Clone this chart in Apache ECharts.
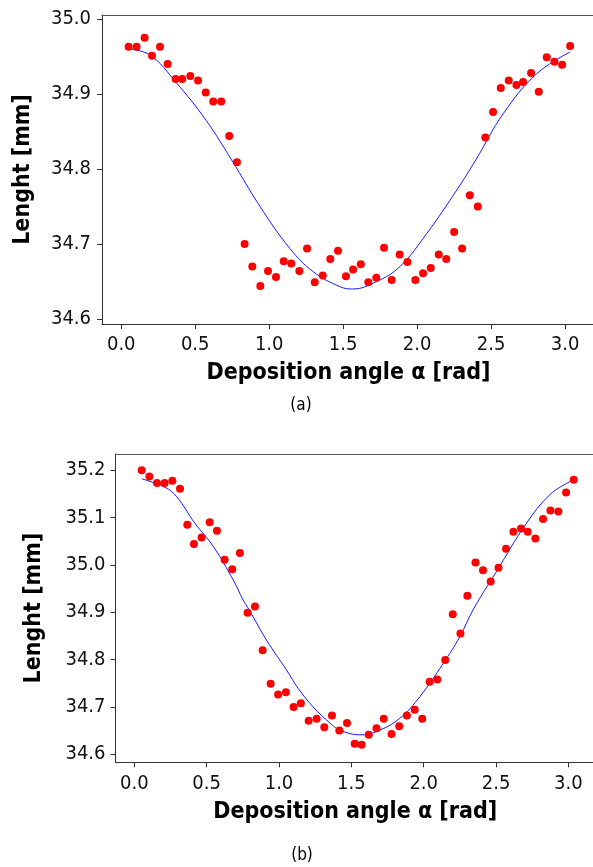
<!DOCTYPE html>
<html>
<head>
<meta charset="utf-8">
<script src="https://cdn.jsdelivr.net/npm/echarts@6/dist/echarts.min.js"></script>
<style>
html,body{margin:0;padding:0;background:#fff;overflow:hidden;}
#chart{width:593px;height:867px;}
</style>
</head>
<body>
<div id="chart"></div>
<script>
// ---- Data ----
const xTickValues = [0, 0.5, 1.0, 1.5, 2.0, 2.5, 3.0];
const topYTicks = [34.6, 34.7, 34.8, 34.9, 35.0];
const botYTicks = [34.6, 34.7, 34.8, 34.9, 35.0, 35.1, 35.2];

const xTitle = 'Deposition angle α [rad]';
const yTitle = 'Lenght [mm]';
const panelLabels = ['(a)', '(b)'];

// (a) measured points
const topX = [0.050,0.104,0.158,0.208,0.262,0.314,0.368,0.412,0.467,0.519,0.571,0.622,0.676,0.730,0.782,
  0.834,0.886,0.940,0.992,1.046,1.098,1.149,1.204,1.256,1.308,1.362,1.413,1.465,
  1.519,1.567,1.619,1.670,1.724,1.776,1.828,1.882,1.934,1.988,2.040,2.092,2.146,2.197,2.250,2.304,2.356,2.410,
  2.461,2.513,2.565,2.619,2.671,2.716,2.770,2.822,2.876,2.928,2.980,3.034];
const topY = [34.963,34.963,34.975,34.951,34.963,34.940,34.920,34.920,34.924,34.918,34.902,34.890,34.890,34.844,34.809,
  34.700,34.670,34.644,34.664,34.656,34.677,34.674,34.664,34.694,34.649,34.658,34.680,34.691,
  34.657,34.666,34.673,34.649,34.655,34.695,34.652,34.686,34.676,34.652,34.661,34.668,34.686,34.680,34.716,34.694,34.765,34.750,
  34.842,34.876,34.908,34.918,34.912,34.916,34.928,34.903,34.949,34.943,34.939,34.964];
// (a) fitted curve
const topFitX = [0.05,0.195,0.368,0.573,0.746,0.938,1.140,1.298,1.479,1.564,1.727,1.884,2.065,2.268,2.396,2.583,2.808,3.034];
const topFitY = [34.960,34.952,34.916,34.865,34.812,34.750,34.694,34.663,34.643,34.640,34.650,34.670,34.714,34.772,34.812,34.874,34.927,34.956];

// (b) measured points
const botX = [0.051,0.104,0.157,0.210,0.263,0.316,0.366,0.412,0.465,0.521,0.571,0.624,0.677,0.730,0.783,0.834,0.887,0.942,0.994,1.048,1.101,1.151,1.205,1.260,1.313,1.366,1.417,
  1.470,1.523,1.571,1.620,1.674,1.724,1.778,1.831,1.884,1.938,1.990,2.041,2.094,2.149,2.201,2.254,
  2.302,2.358,2.410,2.463,2.517,2.569,2.620,2.673,2.719,2.772,2.825,2.876,2.931,2.984,3.037];
const botY = [35.200,35.187,35.173,35.173,35.178,35.161,35.085,35.044,35.058,35.090,35.072,35.011,34.991,35.025,34.899,34.912,34.820,34.749,34.726,34.731,34.700,34.708,34.671,34.675,34.657,34.682,34.650,
  34.666,34.622,34.620,34.641,34.655,34.675,34.643,34.659,34.682,34.694,34.675,34.753,34.758,34.799,34.896,34.855,
  34.935,35.005,34.989,34.965,34.994,35.034,35.070,35.077,35.070,35.056,35.097,35.115,35.113,35.153,35.180];
// (b) fitted curve
const botFitX = [0.051,0.212,0.293,0.419,0.546,0.684,0.752,0.794,0.914,1.052,1.133,1.236,1.352,1.421,1.559,1.674,1.835,1.974,2.135,2.249,2.341,2.503,2.710,2.871,3.009,3.033];
const botFitY = [35.182,35.164,35.144,35.088,35.039,34.968,34.926,34.905,34.841,34.778,34.739,34.700,34.666,34.651,34.641,34.648,34.676,34.722,34.792,34.848,34.905,34.986,35.088,35.148,35.176,35.178];

// ---- Chart ----
const FONT = "'DejaVu Sans Condensed', 'DejaVu Sans', sans-serif";
const zip = (a, b) => a.map((v, i) => [v, b[i]]);

function xAxisCfg(gridIndex, min, max) {
  return {
    type: 'value', gridIndex, min, max, position: 'bottom',
    axisLine: {show: true, onZero: false, lineStyle: {color: '#333', width: 1}},
    axisTick: {show: true, length: 5, lineStyle: {color: '#333'}, customValues: xTickValues},
    axisLabel: {customValues: xTickValues, formatter: v => v.toFixed(1), color: '#111',
      fontFamily: FONT, fontSize: 20, margin: 11},
    splitLine: {show: false},
    name: xTitle, nameLocation: 'middle', nameGap: 38,
    nameTextStyle: {fontFamily: FONT, fontSize: 23, fontWeight: 'bold', color: '#000'}
  };
}
function topFrameAxis(gridIndex, min, max) {
  return {
    type: 'value', gridIndex, min, max, position: 'top',
    axisLine: {show: true, onZero: false, lineStyle: {color: '#555', width: 1}},
    axisTick: {show: false}, axisLabel: {show: false}, splitLine: {show: false}
  };
}
function yAxisCfg(gridIndex, min, max, ticks, labelMargin, nameGap) {
  return {
    type: 'value', gridIndex, min, max,
    axisLine: {show: true, onZero: false, lineStyle: {color: '#333', width: 1}},
    axisTick: {show: true, length: 5, lineStyle: {color: '#333'}, customValues: ticks},
    axisLabel: {customValues: ticks, formatter: v => v.toFixed(1), color: '#111',
      fontFamily: FONT, fontSize: 20, margin: labelMargin},
    splitLine: {show: false},
    name: yTitle, nameLocation: 'middle', nameGap: nameGap, nameRotate: 90,
    nameTextStyle: {fontFamily: FONT, fontSize: 23, fontWeight: 'bold', color: '#000'}
  };
}

const topRange = [-0.130, 3.202];
const botRange = [-0.130, 3.184];

const chart = echarts.init(document.getElementById('chart'), null, {renderer: 'canvas'});
chart.setOption({
  animation: false,
  backgroundColor: '#fff',
  grid: [
    {left: 102, top: 15, width: 493, height: 309, show: false, containLabel: false, outerBoundsMode: 'none'},
    {left: 115.5, top: 454, width: 479.5, height: 308.3, show: false, containLabel: false, outerBoundsMode: 'none'}
  ],
  xAxis: [xAxisCfg(0, topRange[0], topRange[1]), xAxisCfg(1, botRange[0], botRange[1]),
          topFrameAxis(0, topRange[0], topRange[1]), topFrameAxis(1, botRange[0], botRange[1])],
  yAxis: [yAxisCfg(0, 34.5933, 35.0053, topYTicks, 11, 67), yAxisCfg(1, 34.583, 35.2344, botYTicks, 10, 70)],
  series: [
    {type: 'line', xAxisIndex: 0, yAxisIndex: 0, data: zip(topFitX, topFitY), smooth: 0.4,
      showSymbol: false, lineStyle: {color: '#1a1aff', width: 1}, z: 2},
    {type: 'scatter', xAxisIndex: 0, yAxisIndex: 0, data: zip(topX, topY), symbolSize: 8,
      itemStyle: {color: '#ff0000', opacity: 1}, z: 3},
    {type: 'line', xAxisIndex: 1, yAxisIndex: 1, data: zip(botFitX, botFitY), smooth: 0.4,
      showSymbol: false, lineStyle: {color: '#1a1aff', width: 1}, z: 2},
    {type: 'scatter', xAxisIndex: 1, yAxisIndex: 1, data: zip(botX, botY), symbolSize: 8,
      itemStyle: {color: '#ff0000', opacity: 1}, z: 3}
  ],
  graphic: [
    {type: 'text', style: {text: panelLabels[0], x: 301, y: 406, align: 'center', verticalAlign: 'middle',
      font: "17px " + FONT, fill: '#000'}},
    {type: 'text', style: {text: panelLabels[1], x: 302, y: 856, align: 'center', verticalAlign: 'middle',
      font: "17px " + FONT, fill: '#000'}}
  ]
});
</script>
</body>
</html>
